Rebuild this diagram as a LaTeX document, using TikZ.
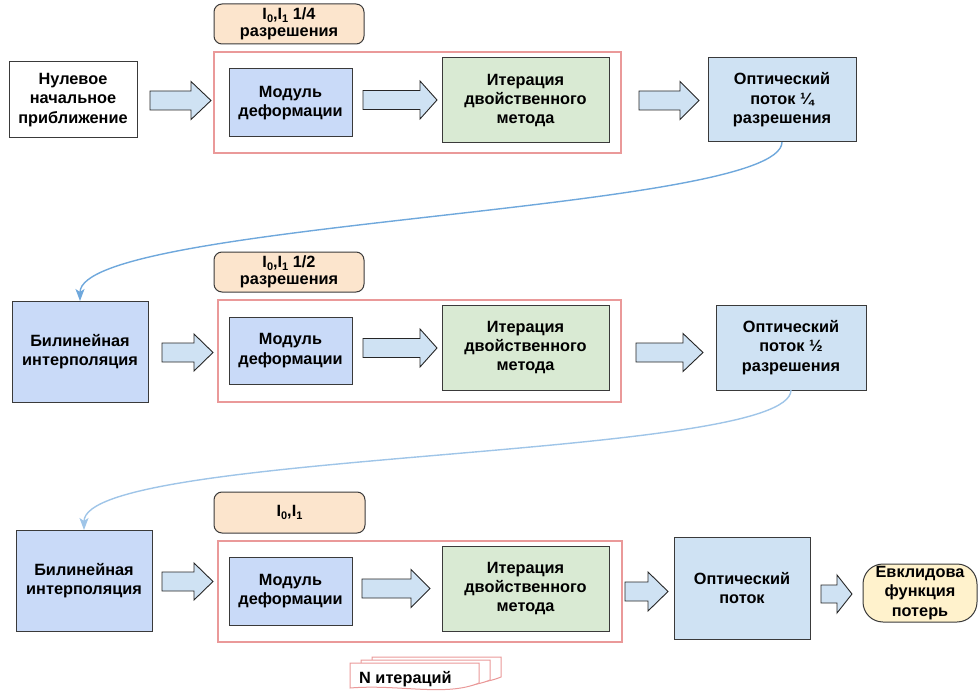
\documentclass[tikz,border=0pt]{standalone}
\usepackage{fontspec}
\setmainfont{Liberation Sans}
\usetikzlibrary{arrows.meta}
\definecolor{peach}{HTML}{FCE5CD}
\definecolor{cblue}{HTML}{C9DAF8}
\definecolor{lblue}{HTML}{CFE2F3}
\definecolor{lgreen}{HTML}{D9EAD3}
\definecolor{lyellow}{HTML}{FFF2CC}
\definecolor{framered}{HTML}{EA9999}
\definecolor{edge}{HTML}{3A3A3A}
\definecolor{curveA}{HTML}{6FA8DC}
\definecolor{curveB}{HTML}{9FC5E8}
\newcommand\sub[1]{\raisebox{-3pt}{\fontsize{11}{11}\selectfont #1}}
\newcommand\blockarrow[6]{%
  \draw[barr] (#1,#4-#5) -- (#2,#4-#5) -- (#2,#4-#6) -- (#3,#4)
     -- (#2,#4+#6) -- (#2,#4+#5) -- (#1,#4+#5) -- cycle;}
\tikzset{
  bx/.style={draw=edge, line width=1pt, inner sep=0pt, outer sep=0pt, align=center},
  lab/.style={bx, fill=peach, rounded corners=8pt, minimum width=150, minimum height=40},
  framebox/.style={draw=framered, line width=1.3pt, inner sep=0pt, outer sep=0pt},
  barr/.style={draw=black!85, line width=0.9pt, fill=lblue, line join=miter},
  flowA/.style={draw=curveA, line width=1.4pt, -{Stealth[length=12pt,width=9pt,inset=3pt]}},
  flowB/.style={draw=curveB, line width=1.4pt, -{Stealth[length=12pt,width=9pt,inset=3pt]}},
  doc/.style={draw=framered, line width=1pt, fill=white},
}
\begin{document}
\begin{tikzpicture}[x=1pt,y=-1pt,font=\bfseries\fontsize{16.3}{19.4}\selectfont]
\useasboundingbox (0,0) rectangle (978,698);

% ---------- row 1
\node[lab] (lab1) at (289,24) {I\sub{0},I\sub{1} 1/4\\[-2pt]разрешения};
\node[framebox, minimum width=407, minimum height=101] (frame1) at (417.5,102.5) {};
\node[bx, fill=white, minimum width=128, minimum height=76] (init) at (73,100) {Нулевое\\начальное\\приближение};
\node[bx, fill=cblue, minimum width=123, minimum height=68] (mod1) at (290.5,103) {Модуль\\деформации};
\node[bx, fill=lgreen, minimum width=167, minimum height=85] (it1) at (525.5,100.5) {Итерация\\двойственного\\метода};
\node[bx, fill=lblue, minimum width=148, minimum height=84] (opt1) at (782,100) {Оптический\\поток ¼\\разрешения};
\blockarrow{150}{191}{211}{100.5}{9.5}{19}
\blockarrow{363}{420}{437}{100}{9.5}{19}
\blockarrow{639}{680}{699}{100.5}{9.5}{19}

% ---------- row 2
\node[lab] (lab2) at (289,272) {I\sub{0},I\sub{1} 1/2\\[-2pt]разрешения};
\node[framebox, minimum width=403, minimum height=102] (frame2) at (419.5,351) {};
\node[bx, fill=cblue, minimum width=136, minimum height=101] (bil2) at (80,351.5) {Билинейная\\интерполяция};
\node[bx, fill=cblue, minimum width=123, minimum height=67] (mod2) at (290.5,350.5) {Модуль\\деформации};
\node[bx, fill=lgreen, minimum width=167, minimum height=85] (it2) at (525.5,347.5) {Итерация\\двойственного\\метода};
\node[bx, fill=lblue, minimum width=150, minimum height=85] (opt2) at (791,347.5) {Оптический\\поток ½\\разрешения};
\blockarrow{162}{194}{213}{352.5}{9.5}{18.5}
\blockarrow{363}{420}{437}{348}{9.5}{19}
\blockarrow{636}{683}{703}{352.5}{9.5}{19}

% ---------- row 3
\node[lab, minimum width=151, minimum height=41] (lab3) at (289.5,512.5) {I\sub{0},I\sub{1}};
\node[framebox, minimum width=404, minimum height=101] (frame3) at (420,591.5) {};
\node[bx, fill=cblue, minimum width=136, minimum height=101] (bil3) at (84,580.5) {Билинейная\\интерполяция};
\node[bx, fill=cblue, minimum width=123, minimum height=68] (mod3) at (290.5,591) {Модуль\\деформации};
\node[bx, fill=lgreen, minimum width=167, minimum height=85] (it3) at (525.5,588.5) {Итерация\\двойственного\\метода};
\node[bx, fill=lblue, minimum width=136, minimum height=102] (opt3) at (742,588) {Оптический\\поток};
\node[bx, fill=lyellow, rounded corners=20pt, minimum width=114, minimum height=58] (loss) at (920,593) {Евклидова\\функция\\потерь};
\blockarrow{162}{194}{213}{581.5}{9.5}{18.5}
\blockarrow{362}{411}{430}{588.5}{9.5}{19}
\blockarrow{625}{648}{668}{591.5}{9.5}{19.5}
\blockarrow{821}{837}{852}{594}{9}{19}

% ---------- curved connectors
\draw[flowA] (opt1.south) .. controls +(0,70) and +(0,-80) .. (bil2.north);
\draw[flowB] (opt2.south) .. controls +(0,70) and +(0,-80) .. (bil3.north);

% ---------- N iterations stack
\foreach \dx/\dy in {22/-6, 11/-3, 0/0}{
  \draw[doc] (350+\dx,663+\dy) -- (479+\dx,663+\dy) -- (479+\dx,683+\dy)
    .. controls (445+\dx,697+\dy) and (400+\dx,684+\dy) .. (350+\dx,688+\dy) -- cycle;
}
\node[anchor=base west, inner sep=0pt] (niter) at (359,683) {N итераций};
\end{tikzpicture}
\end{document}
